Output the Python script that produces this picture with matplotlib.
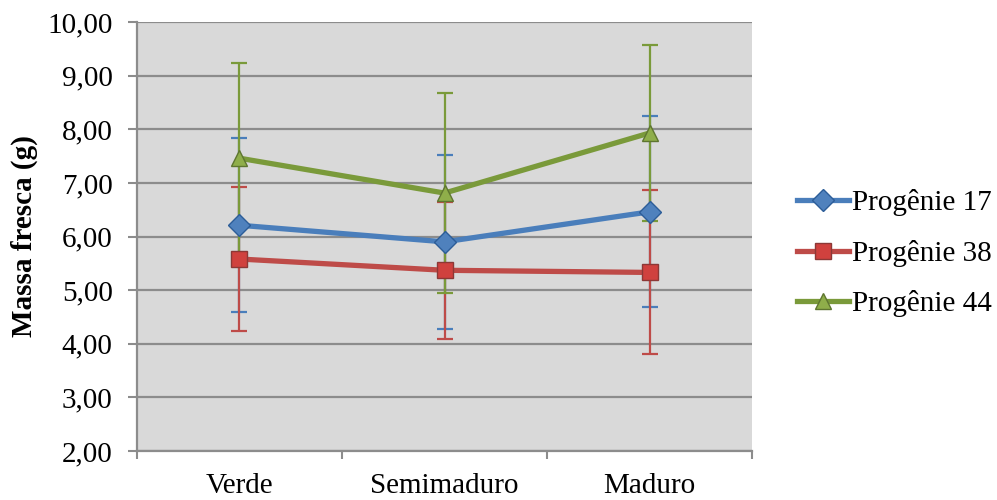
import numpy as np
import matplotlib
matplotlib.use("Agg")
import matplotlib.pyplot as plt

categories = ["Verde", "Semimaduro", "Maduro"]
series_names = ["Progênie 17", "Progênie 38", "Progênie 44"]
p17 = [6.21, 5.90, 6.46]
p17_err = [1.62, 1.62, 1.78]
p38 = [5.58, 5.37, 5.33]
p38_err = [1.35, 1.28, 1.53]
p44 = [7.46, 6.81, 7.93]
p44_err = [1.77, 1.87, 1.64]
yticks = [2, 3, 4, 5, 6, 7, 8, 9, 10]

LINE_C = ["#4A7EBB", "#BE4B48", "#7A9A3A"]
FACE_C = ["#4F81BD", "#D0413E", "#8FAE4A"]
EDGE_C = ["#2C5D98", "#8C3836", "#5E7530"]
MARKERS = ["D", "s", "^"]
MSIZE = [11, 12, 12]
FS = 21

plt.rcParams["font.family"] = ["Liberation Serif", "DejaVu Serif"]

fig = plt.figure(figsize=(9.97, 5.0), dpi=100)
ax = fig.add_axes([0.1374, 0.098, 0.6169, 0.858])
ax.set_facecolor("#D9D9D9")

x = np.arange(len(categories))
vals = [p17, p38, p44]
errs = [p17_err, p38_err, p44_err]

for i in range(3):
    ax.errorbar(x, vals[i], yerr=errs[i], fmt="none", ecolor=LINE_C[i],
                elinewidth=1.6, capsize=6, capthick=1.6, zorder=3)
for i in range(3):
    ax.plot(x, vals[i], color=LINE_C[i], lw=3.8, marker=MARKERS[i],
            markersize=MSIZE[i], markerfacecolor=FACE_C[i],
            markeredgecolor=EDGE_C[i], markeredgewidth=1.0,
            label=series_names[i], zorder=4 + i)

ax.set_xlim(-0.5, 2.5)
ax.set_ylim(2, 10)
ax.set_yticks(yticks)
ax.set_yticklabels([f"{v:.2f}".replace(".", ",") for v in yticks], fontsize=FS)
ax.yaxis.grid(True, color="#8C8C8C", lw=1.6)
ax.set_axisbelow(True)

ax.set_xticks(x)
ax.set_xticklabels(categories, fontsize=FS)
ax.set_xticks([-0.5, 0.5, 1.5, 2.5], minor=True)
ax.tick_params(axis="x", which="major", length=0, pad=16)
ax.tick_params(axis="x", which="minor", length=6, width=1.5, color="#8C8C8C")
ax.tick_params(axis="y", length=6.5, width=1.5, color="#8C8C8C", pad=11)

for s in ["top", "right"]:
    ax.spines[s].set_visible(False)
for s in ["left", "bottom"]:
    ax.spines[s].set_color("#8C8C8C")
    ax.spines[s].set_linewidth(1.6)

ax.set_ylabel("Massa fresca (g)", fontsize=FS, fontweight="bold", labelpad=7)

ax.legend(loc="center left", bbox_to_anchor=(1.03, 0.461), frameon=False,
          fontsize=FS, handlelength=1.8, handletextpad=0.1, labelspacing=0.8)

fig.savefig("out.png", dpi=100)
